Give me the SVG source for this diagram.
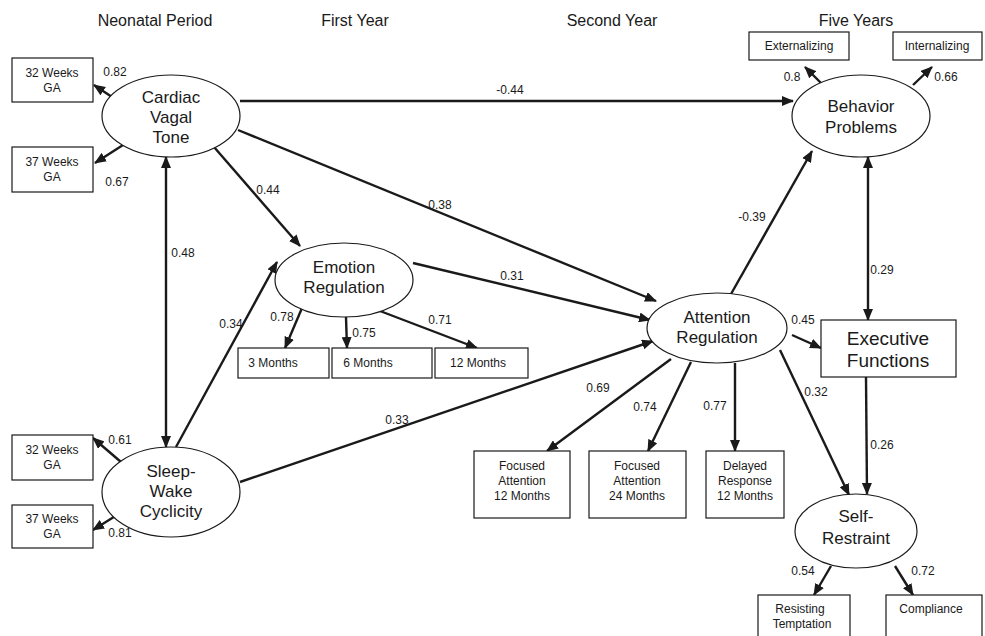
<svg xmlns="http://www.w3.org/2000/svg" width="985" height="636" viewBox="0 0 985 636">
<defs>
<marker id="ah" viewBox="0 0 12 10" refX="11" refY="5" markerWidth="12" markerHeight="10" markerUnits="userSpaceOnUse" orient="auto-start-reverse">
<path d="M0,0 L12,5 L0,10 Z" fill="#1a1a1a"/>
</marker>
<style>
text{font-family:"Liberation Sans",Arial,sans-serif;fill:#1a1a1a;text-anchor:middle;dominant-baseline:central}
.hd{font-size:16px}
.el{font-size:17px}
.bx{font-size:12px}
.lb{font-size:12px}
.big{font-size:19px}
ellipse,rect{fill:#fff;stroke:#1a1a1a;stroke-width:1.2}
.c line{stroke:#1a1a1a;stroke-width:2.4;marker-end:url(#ah)}
.c line.d{marker-start:url(#ah)}
</style>
</defs>
<rect x="0" y="0" width="985" height="636" style="stroke:none;fill:#fff"/>
<g id="headers">
<text class="hd" x="155" y="20">Neonatal Period</text>
<text class="hd" x="355" y="20">First Year</text>
<text class="hd" x="612" y="20">Second Year</text>
<text class="hd" x="856" y="20">Five Years</text>
</g>
<g class="c" id="connectors">
<line x1="112" y1="97" x2="94" y2="85"/>
<line x1="123" y1="145" x2="95" y2="163"/>
<line x1="121" y1="462" x2="93" y2="438"/>
<line x1="117" y1="515" x2="93" y2="530"/>
<line class="d" x1="166" y1="157" x2="166" y2="447"/>
<line x1="214" y1="147" x2="300" y2="246"/>
<line x1="176" y1="447" x2="277" y2="262"/>
<line x1="240" y1="101" x2="793" y2="101"/>
<line x1="238" y1="130" x2="656" y2="301"/>
<line x1="413" y1="263" x2="650" y2="320"/>
<line x1="240" y1="482" x2="653" y2="341"/>
<line x1="302" y1="308" x2="285" y2="348"/>
<line x1="346" y1="317" x2="347" y2="348"/>
<line x1="380" y1="311" x2="477" y2="348"/>
<line x1="731" y1="294" x2="812" y2="151"/>
<line class="d" x1="868" y1="157" x2="868" y2="320"/>
<line x1="792" y1="335" x2="821" y2="348"/>
<line x1="866" y1="377" x2="867" y2="494"/>
<line x1="780" y1="350" x2="849" y2="495"/>
<line x1="671" y1="359" x2="547" y2="451"/>
<line x1="691" y1="362" x2="648" y2="451"/>
<line x1="735" y1="363" x2="735" y2="451"/>
<line x1="823" y1="85" x2="805" y2="67"/>
<line x1="913" y1="85" x2="932" y2="67"/>
<line x1="831" y1="566" x2="814" y2="595"/>
<line x1="895" y1="566" x2="913" y2="595"/>
</g>
<g id="labels">
<text class="lb" x="115" y="72">0.82</text>
<text class="lb" x="117" y="182">0.67</text>
<text class="lb" x="120" y="440">0.61</text>
<text class="lb" x="120" y="533">0.81</text>
<text class="lb" x="183" y="253">0.48</text>
<text class="lb" x="268" y="190">0.44</text>
<text class="lb" x="231" y="324">0.34</text>
<text class="lb" x="510" y="90">-0.44</text>
<text class="lb" x="440" y="205">0.38</text>
<text class="lb" x="512" y="276">0.31</text>
<text class="lb" x="397" y="420">0.33</text>
<text class="lb" x="282" y="317">0.78</text>
<text class="lb" x="364" y="333">0.75</text>
<text class="lb" x="440" y="320">0.71</text>
<text class="lb" x="752" y="217">-0.39</text>
<text class="lb" x="882" y="270">0.29</text>
<text class="lb" x="803" y="320">0.45</text>
<text class="lb" x="816" y="392">0.32</text>
<text class="lb" x="882" y="445">0.26</text>
<text class="lb" x="598" y="388">0.69</text>
<text class="lb" x="645" y="407">0.74</text>
<text class="lb" x="715" y="406">0.77</text>
<text class="lb" x="792" y="77">0.8</text>
<text class="lb" x="946" y="77">0.66</text>
<text class="lb" x="803" y="571">0.54</text>
<text class="lb" x="923" y="571">0.72</text>
</g>
<g id="cvt"><ellipse cx="171" cy="116" rx="69" ry="41"/><text class="el" x="171" y="97">Cardiac</text><text class="el" x="171" y="117">Vagal</text><text class="el" x="171" y="137">Tone</text></g>
<g id="swc"><ellipse cx="171" cy="492" rx="69" ry="45"/><text class="el" x="171" y="471">Sleep-</text><text class="el" x="171" y="491">Wake</text><text class="el" x="171" y="511">Cyclicity</text></g>
<g id="cvt32"><rect x="12" y="58" width="81" height="44"/><text class="bx" x="52" y="73">32 Weeks</text><text class="bx" x="52" y="88">GA</text></g>
<g id="cvt37"><rect x="12" y="147" width="81" height="45"/><text class="bx" x="52" y="162">37 Weeks</text><text class="bx" x="52" y="177">GA</text></g>
<g id="swc32"><rect x="12" y="435" width="81" height="45"/><text class="bx" x="52" y="450">32 Weeks</text><text class="bx" x="52" y="465">GA</text></g>
<g id="swc37"><rect x="12" y="505" width="81" height="43"/><text class="bx" x="52" y="519">37 Weeks</text><text class="bx" x="52" y="534">GA</text></g>
<g id="er"><ellipse cx="344" cy="280" rx="69" ry="37"/><text class="el" x="344" y="267">Emotion</text><text class="el" x="344" y="287">Regulation</text></g>
<g id="m3"><rect x="238" y="348" width="91" height="30"/><text class="bx" x="273" y="363">3 Months</text></g>
<g id="m6"><rect x="332" y="348" width="100" height="30"/><text class="bx" x="368" y="363">6 Months</text></g>
<g id="m12"><rect x="435" y="348" width="93" height="30"/><text class="bx" x="478" y="363">12 Months</text></g>
<g id="ar"><ellipse cx="717" cy="328" rx="70" ry="35"/><text class="el" x="717" y="317">Attention</text><text class="el" x="717" y="337">Regulation</text></g>
<g id="fa12"><rect x="474" y="451" width="96" height="67"/><text class="bx" x="522" y="466">Focused</text><text class="bx" x="522" y="481">Attention</text><text class="bx" x="522" y="496">12 Months</text></g>
<g id="fa24"><rect x="589" y="451" width="97" height="67"/><text class="bx" x="637" y="466">Focused</text><text class="bx" x="637" y="481">Attention</text><text class="bx" x="637" y="496">24 Months</text></g>
<g id="dr12"><rect x="706" y="451" width="78" height="67"/><text class="bx" x="745" y="466">Delayed</text><text class="bx" x="745" y="481">Response</text><text class="bx" x="745" y="496">12 Months</text></g>
<g id="ef"><rect x="821" y="320" width="135" height="57"/><text class="big" x="888" y="338">Executive</text><text class="big" x="888" y="360">Functions</text></g>
<g id="bp"><ellipse cx="861" cy="116" rx="69" ry="41"/><text class="el" x="861" y="106">Behavior</text><text class="el" x="861" y="127">Problems</text></g>
<g id="ext"><rect x="749" y="32" width="100" height="28"/><text class="bx" x="799" y="46">Externalizing</text></g>
<g id="int"><rect x="893" y="32" width="89" height="28"/><text class="bx" x="937" y="46">Internalizing</text></g>
<g id="sr"><ellipse cx="856" cy="531" rx="61" ry="37"/><text class="el" x="856" y="516">Self-</text><text class="el" x="856" y="538">Restraint</text></g>
<g id="rt"><rect x="758" y="595" width="92" height="50"/><text class="bx" x="800" y="609">Resisting</text><text class="bx" x="802" y="624">Temptation</text></g>
<g id="comp"><rect x="886" y="595" width="96" height="50"/><text class="bx" x="931" y="609">Compliance</text></g>
</svg>
